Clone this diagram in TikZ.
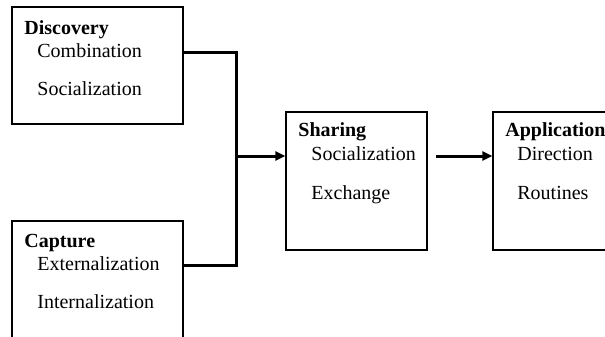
\documentclass[tikz,border=0pt]{standalone}
\usepackage{fontspec}
\setmainfont{Liberation Serif}
\usetikzlibrary{arrows.meta}
\begin{document}
\begin{tikzpicture}[x=0.5pt,y=-0.5pt,
  box/.style={draw, line width=0.6pt, inner sep=0pt, minimum width=#1},
  conn/.style={line width=1.5pt},
  arr/.style={line width=1.5pt, -{Triangle[length=5pt,width=4.5pt]}},
  title/.style={anchor=base west, inner sep=0pt, font=\fontsize{10}{12}\selectfont\bfseries},
  item/.style={anchor=base west, inner sep=0pt, font=\fontsize{10}{12}\selectfont}]
\useasboundingbox (0,0) rectangle (605,337);
\clip (0,0) rectangle (605,337);
% boxes
\node[box=85.5pt, minimum height=58.5pt] (Discovery) at (97.5,65.5) {};
\node[box=85.5pt, minimum height=62pt] (Capture) at (97.5,283) {};
\node[box=70.5pt, minimum height=69pt] (Sharing) at (356.5,181) {};
\node[box=63.5pt, minimum height=69pt] (Application) at (556.5,181) {};
% texts
\node[title] (t1) at (24,34) {Discovery};
\node[item] (t1a) at (37,57) {Combination};
\node[item] (t1b) at (37,95) {Socialization};
\node[title] (t2) at (24,247) {Capture};
\node[item] (t2a) at (37,270) {Externalization};
\node[item] (t2b) at (37,308) {Internalization};
\node[title] (t3) at (298,136) {Sharing};
\node[item] (t3a) at (311,160) {Socialization};
\node[item] (t3b) at (311,199) {Exchange};
\node[title] (t4) at (505,136) {Application};
\node[item] (t4a) at (517,160) {Direction};
\node[item] (t4b) at (517,199) {Routines};
% connectors
\coordinate (jn) at (236,156);
\draw[conn] ([yshift=6.75pt]Discovery.east) -| (jn);
\draw[conn] ([yshift=9pt]Capture.east) -| (jn);
\draw[arr] (jn) -- (jn -| Sharing.west);
\coordinate (s2) at (436,156);
\draw[arr] (s2) -- (s2 -| Application.west);
\end{tikzpicture}
\end{document}
